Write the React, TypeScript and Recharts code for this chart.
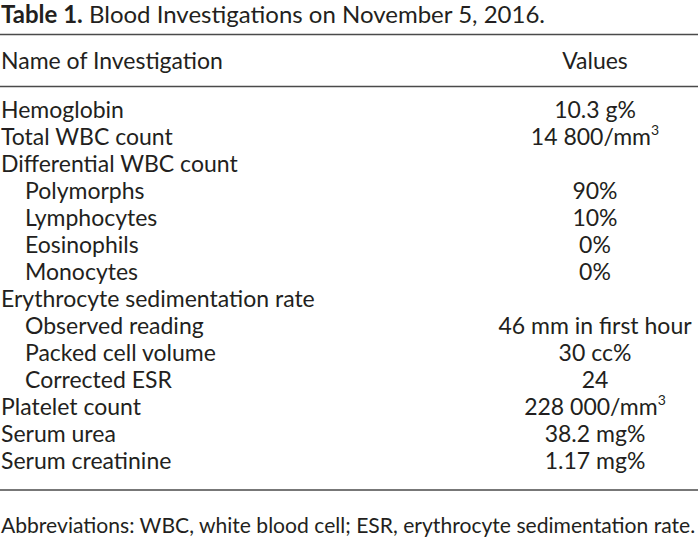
import React from 'react';
import { Surface, Layer } from 'recharts';

const W = 698;
const H = 554;

const title = 'Table 1.';
const subtitle = 'Blood Investigations on November 5, 2016.';
const headers = ['Name of Investigation', 'Values'];
const names = [
  'Hemoglobin',
  'Total WBC count',
  'Differential WBC count',
  'Polymorphs',
  'Lymphocytes',
  'Eosinophils',
  'Monocytes',
  'Erythrocyte sedimentation rate',
  'Observed reading',
  'Packed cell volume',
  'Corrected ESR',
  'Platelet count',
  'Serum urea',
  'Serum creatinine',
];
const indented = [false, false, false, true, true, true, true, false, true, true, true, false, false, false];
const values = [
  '10.3 g%',
  '14 800/mm',
  '',
  '90%',
  '10%',
  '0%',
  '0%',
  '',
  '46 mm in first hour',
  '30 cc%',
  '24',
  '228 000/mm',
  '38.2 mg%',
  '1.17 mg%',
];
const superscripts = ['', '3', '', '', '', '', '', '', '', '', '', '3', '', ''];
const footnote = 'Abbreviations: WBC, white blood cell; ESR, erythrocyte sedimentation rate.';

const FONT = 'Lato, "Open Sans", sans-serif';
const INK = '#231f20';
const RULE = '#4a4a4a';
const rowTop = 118;
const rowH = 27;
const valueX = 595;
const fs = 23;

export default function App() {
  return (
    <div style={{ position: 'absolute', left: 0, top: 0, width: W, height: H, background: '#fff' }}>
      <Surface width={W} height={H}>
        <Layer>
          <text x={1} y={23} fontFamily={FONT} fontSize={24} fill={INK}>
            <tspan fontWeight="bold">{title}</tspan>
            <tspan> {subtitle}</tspan>
          </text>
          <line x1={0} x2={W} y1={34.5} y2={34.5} stroke={RULE} strokeWidth={1.5} />
          <text x={1} y={69} fontFamily={FONT} fontSize={fs} fill={INK}>{headers[0]}</text>
          <text x={valueX} y={69} textAnchor="middle" fontFamily={FONT} fontSize={fs} fill={INK}>{headers[1]}</text>
          <line x1={0} x2={W} y1={86.5} y2={86.5} stroke={RULE} strokeWidth={1.5} />
          {names.map((n, i) => (
            <g key={n}>
              <text x={indented[i] ? 25 : 1} y={rowTop + i * rowH} fontFamily={FONT} fontSize={fs} fill={INK}>{n}</text>
              {values[i] && (
                <text x={valueX} y={rowTop + i * rowH} textAnchor="middle" fontFamily={FONT} fontSize={fs} fill={INK}>
                  {values[i]}
                  {superscripts[i] && <tspan fontSize={14} dy={-10}>{superscripts[i]}</tspan>}
                </text>
              )}
            </g>
          ))}
          <line x1={0} x2={W} y1={490} y2={490} stroke={RULE} strokeWidth={1.5} />
          <text x={1} y={533} fontFamily={FONT} fontSize={21.1} fill={INK}>{footnote}</text>
        </Layer>
      </Surface>
    </div>
  );
}
